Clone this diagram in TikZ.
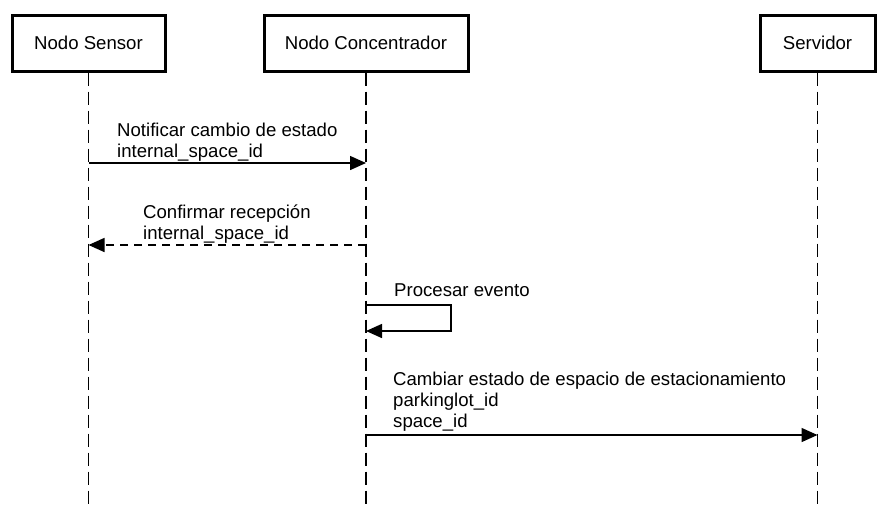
\documentclass[tikz,border=0pt]{standalone}
\usepackage{fontspec}
\setmainfont{Liberation Sans}
\usetikzlibrary{arrows.meta}

\begin{document}
\begin{tikzpicture}[x=1pt,y=-1pt,
	actor/.style={draw, line width=3pt, minimum height=56pt, inner sep=0pt,
		font=\fontsize{18.6}{21}\selectfont},
	lifeline/.style={line width=1.6pt, dash pattern=on 13pt off 6pt},
	msg/.style={line width=1.5pt, -{Triangle[length=16pt,width=14pt]}},
	reply/.style={msg, dash pattern=on 8pt off 6pt},
	lbl/.style={anchor=north west, align=left, inner sep=0pt,
		font=\fontsize{18.6}{21}\selectfont}]
		%%%%% START %%%%%
		\useasboundingbox (0,0) rectangle (885,509);
		
		% participants
		\node[actor, minimum width=153pt] (sensor) at (88.5,43) {Nodo Sensor};
		\node[actor, minimum width=204pt] (hub) at (366,43) {Nodo Concentrador};
		\node[actor, minimum width=115pt] (server) at (817.5,43) {Servidor};
		
		% lifelines
		\coordinate (sensorEnd) at (88.5,509);
		\coordinate (hubEnd) at (366,509);
		\coordinate (serverEnd) at (817.5,509);
		\draw[lifeline] (sensor.south) -- (sensorEnd);
		\draw[lifeline] (hub.south) -- (hubEnd);
		\draw[lifeline] (server.south) -- (serverEnd);
		
		% messages
		\coordinate (s1) at (88.5,163);
		\coordinate (h1) at (366,163);
		\draw[msg] (s1) -- (h1);
		\node[lbl] (notify) at (117,123) {Notificar cambio de estado\\internal\_space\_id};
		
		\coordinate (h2) at (366,245);
		\coordinate (s2) at (88.5,245);
		\draw[reply] (h2) -- (s2);
		\node[lbl] (confirm) at (143,204.5) {Confirmar recepción\\internal\_space\_id};
		
		\coordinate (h3) at (366,305);
		\coordinate (h4) at (366,331);
		\draw[msg] (h3) -- ++(85,0) |- (h4);
		\node[lbl] (process) at (394,283) {Procesar evento};
		
		\coordinate (h5) at (366,435);
		\coordinate (v5) at (817.5,435);
		\draw[msg] (h5) -- (v5);
		\node[lbl] (change) at (393,371.5) {Cambiar estado de espacio de estacionamiento\\parkinglot\_id\\space\_id};
		%%%%% END %%%%%
	\end{tikzpicture}
\end{document}
